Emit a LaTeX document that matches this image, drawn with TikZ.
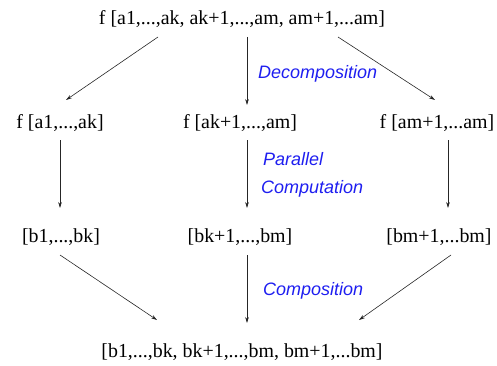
\documentclass[tikz,border=0pt]{standalone}
\usepackage{fontspec}
\setmainfont{Liberation Serif}
\newfontfamily\labfont{Liberation Sans}
\usetikzlibrary{arrows.meta}
\definecolor{lblue}{RGB}{30,30,240}
\tikzset{
  txt/.style={anchor=base, inner sep=0pt, font=\fontsize{19.9}{22}\selectfont},
  lab/.style={anchor=base west, inner sep=0pt, text=lblue, font=\labfont\itshape\fontsize{18}{21}\selectfont},
  arr/.style={-{Stealth[length=6pt,width=3.6pt]}, line width=0.6pt, black!85}
}
\begin{document}
\begin{tikzpicture}[x=1pt,y=1pt]
\useasboundingbox (0,0) rectangle (497,365);
% text nodes
\node[txt] (top) at (242,340) {f [a1,...,ak, ak+1,...,am, am+1,...am]};
\node[txt] (fa) at (60,237) {f [a1,...,ak]};
\node[txt] (fb) at (240,237) {f [ak+1,...,am]};
\node[txt] (fc) at (437,237) {f [am+1,...am]};
\node[txt] (ba) at (61,123) {[b1,...,bk]};
\node[txt] (bb) at (240,123) {[bk+1,...,bm]};
\node[txt] (bc) at (439,123) {[bm+1,...bm]};
\node[txt] (bot) at (242,8) {[b1,...,bk, bk+1,...,bm, bm+1,...bm]};
% labels
\node[lab] (dec) at (258,287) {Decomposition};
\node[lab] (par) at (263,200) {Parallel};
\node[lab] (comp) at (261,172) {Computation};
\node[lab] (cmp) at (263,70) {Composition};
% connector end points
\coordinate (t1) at (158,328); \coordinate (t2) at (247,328); \coordinate (t3) at (338,328);
\coordinate (a1) at (66,265);  \coordinate (a2) at (247,260); \coordinate (a3) at (435,265);
\coordinate (m1) at (60,225);  \coordinate (m2) at (247,225); \coordinate (m3) at (448,225);
\coordinate (n1) at (60,157);  \coordinate (n2) at (247,157); \coordinate (n3) at (448,157);
\coordinate (p1) at (60,110);  \coordinate (p2) at (247,110); \coordinate (p3) at (451,110);
\coordinate (q1) at (157,45);  \coordinate (q2) at (247,42);  \coordinate (q3) at (359,45);
% connectors
\draw[arr] (t1) -- (a1);
\draw[arr] (t2) -- (a2);
\draw[arr] (t3) -- (a3);
\draw[arr] (m1) -- (n1);
\draw[arr] (m2) -- (n2);
\draw[arr] (m3) -- (n3);
\draw[arr] (p1) -- (q1);
\draw[arr] (p2) -- (q2);
\draw[arr] (p3) -- (q3);
\end{tikzpicture}
\end{document}
